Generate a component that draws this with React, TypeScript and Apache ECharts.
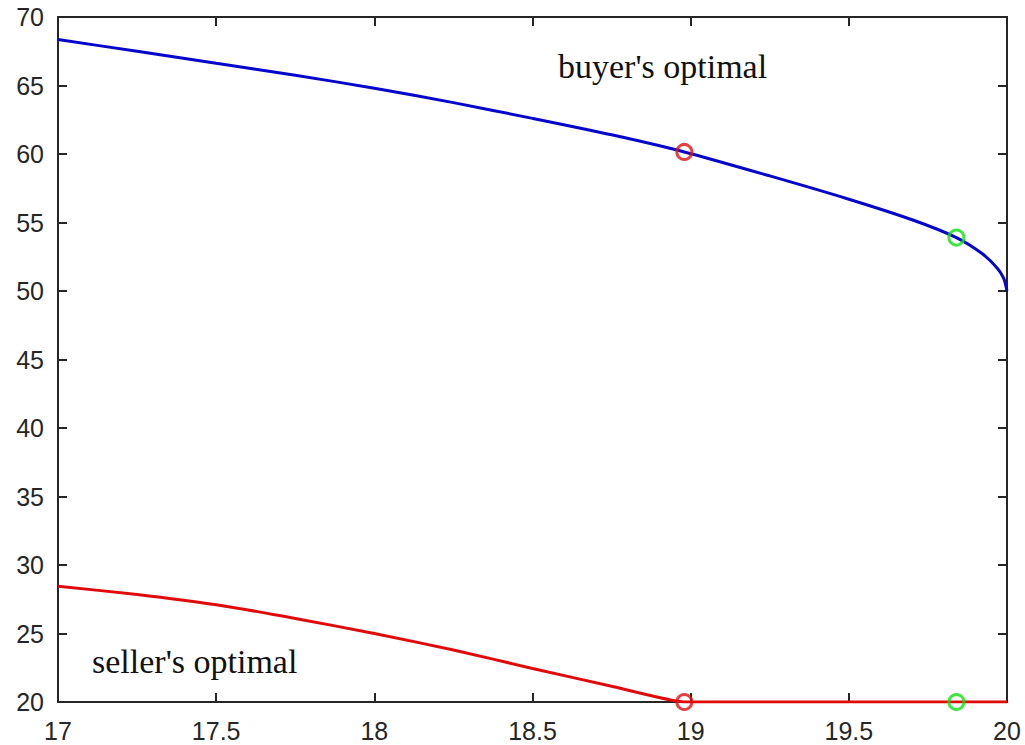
import React, { useEffect, useRef } from "react";
import * as echarts from "echarts";

const buyerX = [17, 17.25, 17.5, 17.75, 18, 18.25, 18.5, 18.75, 18.98, 19.25, 19.5, 19.7, 19.84, 19.92, 19.97, 19.99, 20];
const buyerY = [68.35, 67.5, 66.62, 65.75, 64.8, 63.75, 62.6, 61.4, 60.15, 58.4, 56.7, 55.2, 53.9, 52.75, 51.65, 50.9, 50.0];
const sellerX = [17, 17.25, 17.5, 17.75, 18, 18.25, 18.5, 18.75, 18.98, 19.5, 20];
const sellerY = [28.45, 27.85, 27.1, 26.1, 25.0, 23.8, 22.45, 21.15, 20, 20, 20];
const redPoints = [[18.98, 60.15], [18.98, 20]];
const greenPoints = [[19.84, 53.9], [19.84, 20]];
const labels = ["buyer's optimal", "seller's optimal"];

const AX = "#262626";

export default function App() {
  const ref = useRef<HTMLDivElement>(null);
  useEffect(() => {
    if (!ref.current) return;
    const chart = echarts.init(ref.current, null, { renderer: "svg" });
    const axisCommon = {
      type: "value" as const,
      axisLine: { show: true, onZero: false, lineStyle: { color: AX, width: 2 } },
      axisTick: { show: true, inside: true, length: 9, lineStyle: { color: AX, width: 2 } },
      splitLine: { show: false },
    };
    const labelStyle = { color: AX, fontSize: 25, fontFamily: "Liberation Sans, Arial, sans-serif" };
    chart.setOption({
      animation: false,
      backgroundColor: "#ffffff",
      grid: { left: 58, right: 18, top: 17, bottom: 43, containLabel: false },
      xAxis: [
        { ...axisCommon, min: 17, max: 20, interval: 0.5, position: "bottom", axisLabel: { ...labelStyle, margin: 16 } },
        { ...axisCommon, min: 17, max: 20, interval: 0.5, position: "top", axisLabel: { show: false } },
      ],
      yAxis: [
        { ...axisCommon, min: 20, max: 70, interval: 5, position: "left", axisLabel: { ...labelStyle, margin: 14 } },
        { ...axisCommon, min: 20, max: 70, interval: 5, position: "right", axisLabel: { show: false } },
      ],
      series: [
        {
          type: "line",
          data: buyerX.map((x, i) => [x, buyerY[i]]),
          showSymbol: false,
          smooth: 0.25,
          lineStyle: { color: "#0505cc", width: 3 },
          z: 2,
        },
        {
          type: "line",
          data: sellerX.map((x, i) => [x, sellerY[i]]),
          showSymbol: false,
          smooth: 0.15,
          lineStyle: { color: "#e00a0a", width: 3 },
          z: 2,
        },
        {
          type: "scatter",
          data: redPoints,
          symbol: "circle",
          symbolSize: 15,
          itemStyle: { color: "rgba(0,0,0,0)", borderColor: "#e01010", borderWidth: 3 },
          z: 3,
        },
        {
          type: "scatter",
          data: greenPoints,
          symbol: "circle",
          symbolSize: 15,
          itemStyle: { color: "rgba(0,0,0,0)", borderColor: "#10e010", borderWidth: 3 },
          z: 3,
        },
      ],
      graphic: [
        {
          type: "text",
          left: 558,
          top: 49,
          style: { text: labels[0], fill: "#111", font: "34px 'Liberation Serif', serif" },
        },
        {
          type: "text",
          left: 92,
          top: 644,
          style: { text: labels[1], fill: "#111", font: "34px 'Liberation Serif', serif" },
        },
      ],
    });
    return () => chart.dispose();
  }, []);
  return <div ref={ref} style={{ position: "fixed", left: 0, top: 0, width: 1025, height: 745, background: "#fff" }} />;
}
